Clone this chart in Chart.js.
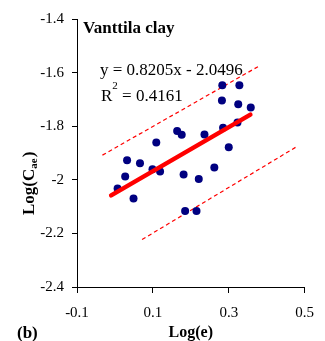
<!DOCTYPE html>
<html>
<head>
<meta charset="utf-8">
<script src="https://cdn.jsdelivr.net/npm/chart.js@4.4.1/dist/chart.umd.min.js"></script>
<style>
  body { margin: 0; background: #fff; }
  #wrap { width: 325px; height: 341px; }
</style>
</head>
<body>
<div id="wrap"><canvas id="myChart" width="325" height="341"></canvas></div>
<script>
// measured points (Log(e), Log(Cae))
var logE = [0.283, 0.328, 0.282, 0.325, 0.358, 0.323, 0.285, 0.236, 0.164, 0.176, 0.109, 0.300,
            0.032, 0.066, 0.099, 0.119, 0.027, 0.181, 0.221, 0.262, 0.007, 0.049, 0.185, 0.215];
var logCae = [-1.647, -1.647, -1.704, -1.718, -1.730, -1.786, -1.806, -1.831, -1.818, -1.832, -1.861, -1.879,
              -1.927, -1.938, -1.961, -1.969, -1.988, -1.980, -1.997, -1.954, -2.032, -2.070, -2.116, -2.116];

// trend line and upper / lower bounds (end points)
var trendX = [-0.01, 0.357];
var trendY = [-2.058, -1.757];
var upperX = [-0.033, 0.377];
var upperY = [-1.908, -1.578];
var lowerX = [0.0715, 0.476];
var lowerY = [-2.223, -1.879];

var xTicks = [-0.1, 0.1, 0.3, 0.5];
var yTicks = [-2.4, -2.2, -2, -1.8, -1.6, -1.4];

var titleText = "Vanttila clay";
var eqText = "y = 0.8205x - 2.0496";
var r2Text = " = 0.4161";
var panelText = "(b)";

function toPoints(xs, ys) {
    var pts = [];
    for (var i = 0; i < xs.length; i++) {
        pts.push({ x: xs[i], y: ys[i] });
    }
    return pts;
}

var serif = "'Liberation Serif', 'Times New Roman', serif";

// texts that Chart.js can't do by itself (subscript, superscript, free labels)
var textPlugin = {
    id: 'texts',
    afterDraw: function(chart) {
        var ctx = chart.ctx;
        ctx.save();
        ctx.fillStyle = '#000';
        ctx.textBaseline = 'alphabetic';
        ctx.textAlign = 'left';

        ctx.font = "bold 17px " + serif;
        ctx.fillText(titleText, 83, 33);

        ctx.font = "17px " + serif;
        ctx.fillText(eqText, 100, 74.5);

        ctx.fillText("R", 101, 100.5);
        var w = ctx.measureText("R").width;
        ctx.font = "11px " + serif;
        ctx.fillText("2", 101 + w, 89);
        var w2 = ctx.measureText("2").width;
        ctx.font = "17px " + serif;
        ctx.fillText(r2Text, 101 + w + w2, 100.5);

        // x axis title
        ctx.font = "bold 16px " + serif;
        ctx.textAlign = 'center';
        ctx.fillText("Log(e)", (chart.chartArea.left + chart.chartArea.right) / 2, 337);

        // panel label
        ctx.textAlign = 'left';
        ctx.font = "bold 17px " + serif;
        ctx.fillText(panelText, 17, 338);

        // y axis title, rotated, with subscript
        ctx.translate(34, 215);
        ctx.rotate(-Math.PI / 2);
        ctx.font = "bold 17px " + serif;
        ctx.fillText("Log(C", 0, 0);
        var a = ctx.measureText("Log(C").width;
        ctx.font = "bold 11px " + serif;
        ctx.fillText("ae", a, 3);
        var b = ctx.measureText("ae").width;
        ctx.font = "bold 17px " + serif;
        ctx.fillText(")", a + b + 1, 0);
        ctx.restore();
    }
};

var ctx1 = document.getElementById('myChart').getContext('2d');
var myChart = new Chart(ctx1, {
    type: 'scatter',
    data: {
        datasets: [{
            type: 'line',
            data: toPoints(trendX, trendY),
            borderColor: '#ff0000',
            borderWidth: 4.5,
            borderCapStyle: 'round',
            pointRadius: 0,
            fill: false,
            order: 0
        }, {
            type: 'line',
            data: toPoints(upperX, upperY),
            borderColor: '#ff0000',
            borderWidth: 1.2,
            borderDash: [4, 3],
            pointRadius: 0,
            fill: false,
            order: 2
        }, {
            type: 'line',
            data: toPoints(lowerX, lowerY),
            borderColor: '#ff0000',
            borderWidth: 1.2,
            borderDash: [4, 3],
            pointRadius: 0,
            fill: false,
            order: 2
        }, {
            data: toPoints(logE, logCae),
            backgroundColor: '#000080',
            borderWidth: 0,
            pointRadius: 4,
            order: 1
        }]
    },
    options: {
        responsive: false,
        animation: false,
        devicePixelRatio: 1,
        layout: {
            autoPadding: false,
            padding: { left: 0, top: 19, right: 9, bottom: 0 }
        },
        plugins: {
            legend: { display: false },
            tooltip: { enabled: false }
        },
        scales: {
            x: {
                type: 'linear',
                min: -0.1,
                max: 0.5,
                afterBuildTicks: function(scale) {
                    scale.ticks = xTicks.map(function(v) { return { value: v }; });
                },
                afterFit: function(scale) { scale.height = 54; },
                ticks: {
                    color: '#000',
                    padding: 11,
                    maxRotation: 0,
                    font: { family: serif, size: 15 },
                    callback: function(v) { return String(Math.round(v * 10) / 10); }
                },
                grid: { drawOnChartArea: false, tickLength: 6, color: '#000' },
                border: { color: '#000', width: 1 }
            },
            y: {
                type: 'linear',
                min: -2.4,
                max: -1.4,
                afterBuildTicks: function(scale) {
                    scale.ticks = yTicks.map(function(v) { return { value: v }; });
                },
                afterFit: function(scale) { scale.width = 77; },
                ticks: {
                    color: '#000',
                    padding: 8,
                    font: { family: serif, size: 15 },
                    callback: function(v) { return String(Math.round(v * 10) / 10); }
                },
                grid: { drawOnChartArea: false, tickLength: 5, color: '#000' },
                border: { color: '#000', width: 1 }
            }
        }
    },
    plugins: [textPlugin]
});
</script>
</body>
</html>
